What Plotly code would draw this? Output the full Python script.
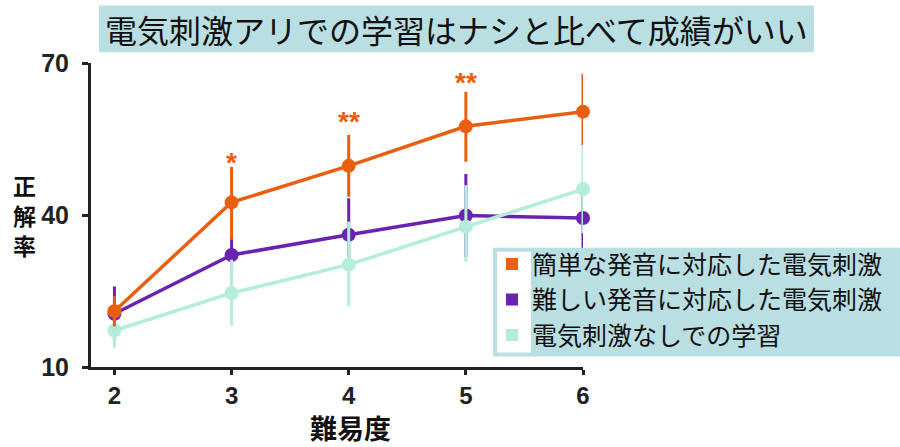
import plotly.graph_objects as go

# ---- data ----
difficulty = [2, 3, 4, 5, 6]

easy_mean = [21.0, 42.5, 49.7, 57.5, 60.4]
easy_err_plus = [3.0, 7.0, 6.1, 6.8, 7.5]
easy_err_minus = [3.0, 7.4, 6.1, 7.0, 6.6]

hard_mean = [20.5, 32.1, 36.1, 39.9, 39.4]
hard_err_plus = [5.4, 3.5, 7.2, 8.2, 7.0]
hard_err_minus = [5.4, 3.5, 7.2, 8.2, 6.9]

none_mean = [17.2, 24.6, 30.2, 37.7, 45.1]
none_err_plus = [3.4, 6.6, 8.5, 8.2, 8.7]
none_err_minus = [3.4, 6.4, 8.2, 6.9, 8.7]

series_names = ["簡単な発音に対応した電気刺激", "難しい発音に対応した電気刺激", "電気刺激なしでの学習"]

sig_x = [3, 4, 5]
sig_text = ["*", "**", "**"]
sig_y = [50.3, 58.5, 66.1]

title_text = "電気刺激アリでの学習はナシと比べて成績がいい"
x_title = "難易度"
y_title = "正解率"
x_ticks = [2, 3, 4, 5, 6]
y_ticks = [10, 40, 70]

ORANGE = "#E8600F"
PURPLE = "#6A22B0"
TEAL = "#B4EDDC"
BOXBG = "#BADFE3"

CJK = "Noto Sans CJK JP"
LAT = "Liberation Sans"

fig = go.Figure()


def add_series(mean, ep, em, color, name):
    fig.add_trace(go.Scatter(
        x=difficulty, y=mean, mode="lines+markers", name=name,
        line=dict(color=color, width=3.5),
        marker=dict(color=color, size=14),
        error_y=dict(type="data", array=ep, arrayminus=em, symmetric=False,
                     color=color, thickness=3, width=0),
        cliponaxis=False, showlegend=False, legendgroup=name,
    ))


# drawing order: purple, teal, orange on top
add_series(hard_mean, hard_err_plus, hard_err_minus, PURPLE, series_names[1])
add_series(none_mean, none_err_plus, none_err_minus, TEAL, series_names[2])
add_series(easy_mean, easy_err_plus, easy_err_minus, ORANGE, series_names[0])

# legend entries (square markers)
for name, color in zip(series_names, [ORANGE, PURPLE, TEAL]):
    fig.add_trace(go.Scatter(
        x=[None], y=[None], mode="markers", name=name,
        marker=dict(color=color, size=9, symbol="square"),
        legendgroup=name, showlegend=True,
    ))

# plot area geometry (pixels)
W, H = 900, 447
L, R = 91, 583
T, B = 62.7, 367.5


def px(xp):
    return (xp - L) / (R - L)


def py(yp):
    return (B - yp) / (B - T)


shapes = [
    # title box
    dict(type="rect", xref="paper", yref="paper", x0=px(99), x1=px(814),
         y0=py(52), y1=py(5), fillcolor=BOXBG, line=dict(width=0), layer="above"),
    # legend box
    dict(type="rect", xref="paper", yref="paper", x0=px(493), x1=px(902),
         y0=py(357), y1=py(248), fillcolor=BOXBG, line=dict(width=0), layer="above"),
    dict(type="rect", xref="paper", yref="paper", x0=px(497), x1=px(531),
         y0=py(353), y1=py(252), fillcolor="white", line=dict(width=0), layer="above"),
]

annotations = [
    dict(text=title_text, xref="paper", yref="paper", x=px(456), y=py(29),
         showarrow=False, xanchor="center", yanchor="middle",
         font=dict(family=CJK, size=32, color="#111")),
    dict(text="<br>".join(list(y_title)), xref="paper", yref="paper", x=px(24), y=py(215),
         showarrow=False, xanchor="center", yanchor="middle",
         font=dict(family=CJK, size=23, color="#111", weight="bold")),
    dict(text=x_title, xref="paper", yref="paper", x=px(350), y=py(428),
         showarrow=False, xanchor="center", yanchor="middle",
         font=dict(family=CJK, size=27, color="#111", weight="bold")),
]
for sx, st, sy in zip(sig_x, sig_text, sig_y):
    annotations.append(dict(text=st, x=sx, y=sy, xref="x", yref="y", showarrow=False,
                            xanchor="center", yanchor="middle",
                            font=dict(family=LAT, size=28, color=ORANGE, weight="bold")))

fig.update_layout(
    width=W, height=H,
    margin=dict(l=L, r=W - R, t=T, b=H - B, pad=0, autoexpand=False),
    paper_bgcolor="white", plot_bgcolor="white",
    shapes=shapes, annotations=annotations,
    showlegend=True,
    legend=dict(x=px(492), y=py(241.5), xanchor="left", yanchor="top",
                bgcolor="rgba(0,0,0,0)", borderwidth=0,
                font=dict(family=CJK, size=25, color="#111"),
                itemsizing="constant", tracegroupgap=0),
    xaxis=dict(range=[1.8, 6.0], tickvals=x_ticks, showline=True, linewidth=3,
               linecolor="#222", ticks="outside", ticklen=5, tickwidth=2.5, tickcolor="#222",
               showgrid=False, zeroline=False,
               tickfont=dict(family=LAT, size=24, color="#222", weight="bold")),
    yaxis=dict(range=[10, 70], tickvals=y_ticks, showline=True, linewidth=3,
               linecolor="#222", ticks="outside", ticklen=6, tickwidth=2.5, tickcolor="#222",
               showgrid=False, zeroline=False, ticklabelstandoff=8,
               tickfont=dict(family=LAT, size=25, color="#222", weight="bold")),
)

fig.write_html("out.html", config={"displayModeBar": False},
               post_script="document.body.style.margin='0';")
